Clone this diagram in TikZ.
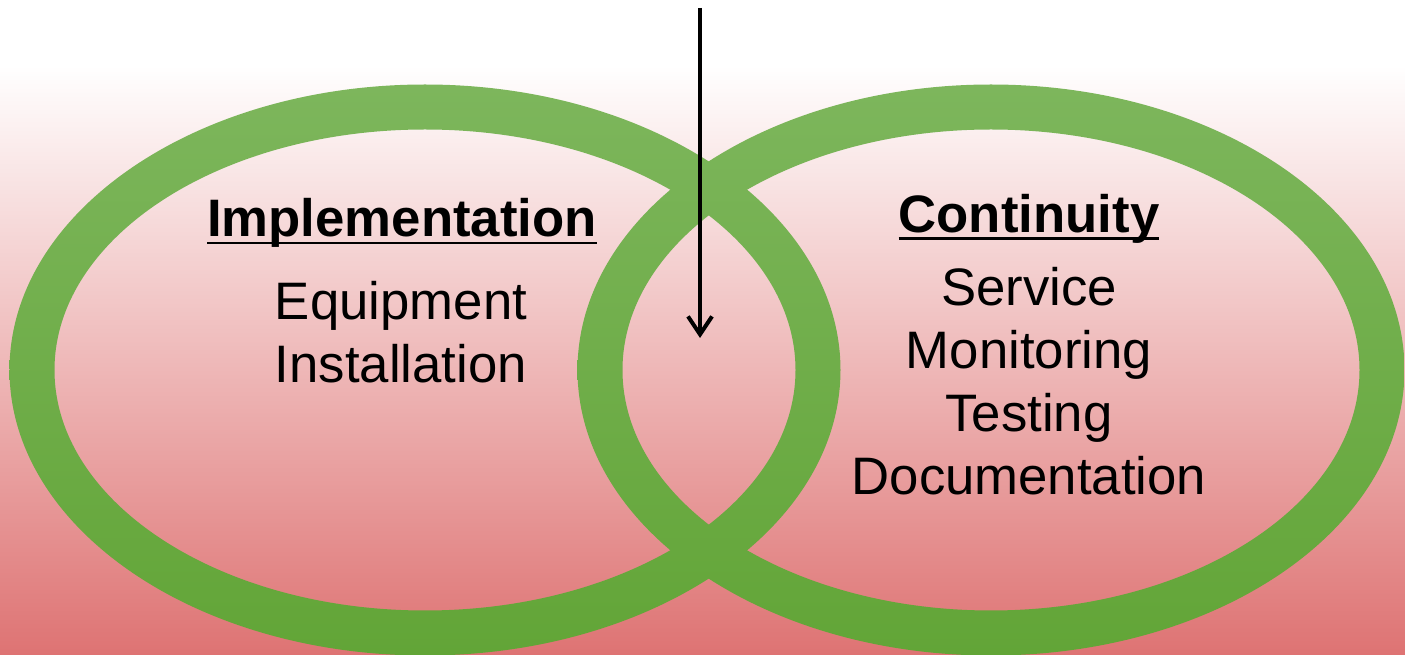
\documentclass[tikz,border=0pt]{standalone}
\usepackage{fontspec}
\setmainfont{Liberation Sans}
\usepackage{tikz}
\usetikzlibrary{arrows.meta,positioning}

\definecolor{ringtop}{RGB}{125,182,92}
\definecolor{ringbot}{RGB}{98,165,55}
\definecolor{bgmid}{RGB}{236,178,178}
\definecolor{bgbot}{RGB}{222,115,115}

\newcommand\headul[1]{\setbox0\hbox{#1}\rlap{\rule[-0.07cm]{\wd0}{0.025cm}}\box0}

\begin{document}
\begin{tikzpicture}[>={Straight Barb[length=0.18cm,width=0.24cm]}, line width=0.04cm,
    ring/.style={top color=ringtop, bottom color=ringbot, even odd rule},
    txt/.style={inner sep=0pt, anchor=base, align=center, font=\fontsize{15}{18}\selectfont}]

    \tikzstyle{head}=[txt, font=\fontsize{15}{18}\selectfont\bfseries]

    \useasboundingbox (0,0) rectangle (14.05,6.55);
    \clip (0,0) rectangle (14.05,6.55);
    \fill[white] (0,5.85) rectangle (14.05,6.55);
    \shade[top color=white, middle color=bgmid, bottom color=bgbot] (0,0) rectangle (14.05,5.9);

    % the two rings
    \shade[ring] (4.25,2.85) ellipse [x radius=4.155cm, y radius=2.855cm]
                 (4.25,2.85) ellipse [x radius=3.705cm, y radius=2.405cm];
    \shade[ring] (9.91,2.85) ellipse [x radius=4.135cm, y radius=2.855cm]
                 (9.91,2.85) ellipse [x radius=3.685cm, y radius=2.405cm];

    \node[head] (impl) at (4.02,4.18) {\headul{Implementation}};
    \node[txt]  (impltasks) at (4.01,2.72) {Equipment\\Installation};

    \node[head] (cont) at (10.29,4.22) {\headul{Continuity}};
    \node[txt]  (conttasks) at (10.29,1.60) {Service\\Monitoring\\Testing\\Documentation};

    \coordinate (src) at (7.00,6.47);
    \coordinate (dst) at (7.00,3.17);
    \draw[->] (src) -- (dst);
\end{tikzpicture}
\end{document}
